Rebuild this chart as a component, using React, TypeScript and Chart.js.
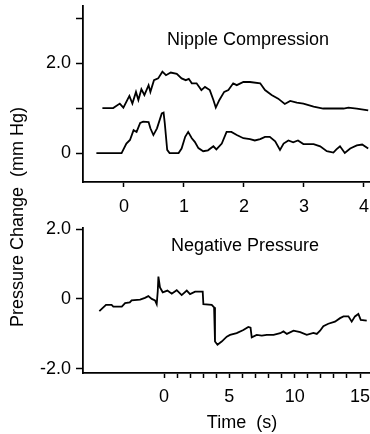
import React, { useEffect, useRef } from "react";
import { Chart, registerables } from "chart.js";

Chart.register(...registerables);

const FONT = "'Liberation Sans', Arial, Helvetica, sans-serif";

// Top panel: Nipple Compression (time in s, pressure change in mm Hg)
const upperT = [-0.36, -0.18, -0.07, -0.01, 0.09, 0.14, 0.2, 0.24, 0.29, 0.34, 0.41, 0.44, 0.5, 0.57, 0.64, 0.7, 0.78, 0.88, 0.96, 1.03, 1.08, 1.13, 1.21, 1.29, 1.35, 1.43, 1.49, 1.53, 1.59, 1.67, 1.74, 1.82, 1.88, 1.99, 2.1, 2.27, 2.35, 2.46, 2.57, 2.68, 2.77, 2.88, 2.99, 3.16, 3.32, 3.66, 3.74, 3.88, 4.07];
const upperV = [1.0, 1.0, 1.1, 1.01, 1.27, 1.1, 1.36, 1.18, 1.42, 1.29, 1.51, 1.36, 1.62, 1.66, 1.81, 1.73, 1.79, 1.76, 1.66, 1.62, 1.65, 1.55, 1.55, 1.4, 1.47, 1.4, 1.18, 1.01, 1.18, 1.36, 1.4, 1.55, 1.51, 1.58, 1.58, 1.55, 1.4, 1.29, 1.21, 1.09, 1.16, 1.12, 1.1, 1.03, 0.99, 0.99, 1.01, 0.99, 0.95];

const lowerT = [-0.46, -0.04, 0.04, 0.1, 0.16, 0.21, 0.27, 0.32, 0.41, 0.44, 0.49, 0.55, 0.63, 0.66, 0.68, 0.72, 0.76, 0.91, 0.96, 1.02, 1.07, 1.13, 1.18, 1.24, 1.32, 1.4, 1.49, 1.54, 1.63, 1.71, 1.79, 1.88, 1.99, 2.1, 2.18, 2.27, 2.35, 2.43, 2.52, 2.6, 2.66, 2.74, 2.82, 2.9, 2.99, 3.16, 3.27, 3.38, 3.49, 3.54, 3.6, 3.68, 3.77, 3.88, 3.97, 4.07];
const lowerV = [0, 0, 0.21, 0.29, 0.51, 0.47, 0.67, 0.7, 0.69, 0.55, 0.4, 0.55, 0.88, 0.9, 0.66, 0.07, 0, 0, 0.1, 0.36, 0.47, 0.33, 0.25, 0.11, 0.04, 0.06, 0.15, 0.08, 0.21, 0.47, 0.47, 0.4, 0.33, 0.31, 0.28, 0.31, 0.36, 0.36, 0.26, 0.07, 0.21, 0.28, 0.24, 0.28, 0.2, 0.2, 0.15, 0.04, 0.01, 0.08, 0.15, 0, 0.1, 0.17, 0.19, 0.1];

const topXTicks = [0, 1, 2, 3, 4];
const topYTicks = [0, 1, 2, 3];
const topYLabels: Record<number, string> = { 0: "0", 2: "2.0" };

// Bottom panel: Negative Pressure
const negT = [-4.95, -4.44, -4.01, -3.88, -3.23, -2.98, -2.62, -2.48, -1.83, -1.46, -1.2, -0.94, -0.69, -0.56, -0.48, -0.43, -0.31, -0.1, 0.26, 0.59, 0.97, 1.35, 1.74, 1.99, 2.38, 2.96, 3.01, 3.65, 3.83, 3.9, 4.09, 4.41, 4.8, 5.05, 5.56, 6.07, 6.45, 6.62, 6.71, 7.09, 7.48, 7.86, 8.38, 8.89, 9.14, 9.4, 9.91, 10.42, 10.92, 11.43, 11.69, 11.94, 12.19, 12.57, 13.08, 13.47, 13.73, 14.11, 14.36, 14.61, 14.87, 15.05, 15.51];
const negV = [-0.35, -0.17, -0.17, -0.22, -0.22, -0.12, -0.1, -0.04, -0.02, 0.03, 0.08, 0.0, -0.04, -0.15, 0.22, 0.64, 0.33, 0.19, 0.24, 0.15, 0.25, 0.11, 0.24, 0.14, 0.21, 0.21, -0.15, -0.17, -0.24, -1.22, -1.31, -1.22, -1.08, -1.03, -0.98, -0.89, -0.8, -0.82, -1.1, -1.03, -1.05, -1.03, -1.03, -0.98, -0.93, -1.0, -0.91, -0.95, -1.03, -0.97, -1.0, -0.91, -0.78, -0.71, -0.65, -0.55, -0.5, -0.5, -0.65, -0.5, -0.43, -0.6, -0.62];

const botXTicks = [0, 1, 2, 3, 4, 5, 6, 7, 8, 9, 10, 11, 12, 13, 14, 15];
const botXLabels: Record<number, string> = { 0: "0", 5: "5", 10: "10", 15: "15" };
const botYTicks = [-2, 0, 2];
const botYLabels: Record<number, string> = { "-2": "-2.0", 0: "0", 2: "2.0" };

const pts = (xs: number[], ys: number[]) => xs.map((x, i) => ({ x, y: ys[i] }));

const lineDs = (data: { x: number; y: number }[]) => ({
  data,
  borderColor: "#000",
  borderWidth: 1.8,
  pointRadius: 0,
  tension: 0,
  fill: false,
});

function axisX(min: number, max: number, ticks: number[], labels: (v: number) => string, height: number, pad: number) {
  return {
    type: "linear" as const,
    min,
    max,
    afterBuildTicks: (s: any) => {
      s.ticks = ticks.map((v) => ({ value: v }));
    },
    afterFit: (s: any) => {
      s.height = height;
      s.paddingLeft = 0;
      s.paddingRight = 0;
    },
    ticks: {
      autoSkip: false,
      maxRotation: 0,
      minRotation: 0,
      padding: pad,
      color: "#000",
      font: { family: FONT, size: 18 },
      callback: (v: any) => labels(Number(v)),
    },
    grid: { drawOnChartArea: false, drawTicks: true, tickLength: 5, tickWidth: 1.5, color: "#000" },
    border: { display: true, color: "#000", width: 1.8 },
  };
}

function axisY(min: number, max: number, ticks: number[], labels: (v: number) => string) {
  return {
    type: "linear" as const,
    min,
    max,
    afterBuildTicks: (s: any) => {
      s.ticks = ticks.map((v) => ({ value: v }));
    },
    afterFit: (s: any) => {
      s.width = 83;
      s.paddingTop = 0;
      s.paddingBottom = 0;
    },
    ticks: {
      autoSkip: false,
      padding: 5,
      color: "#000",
      font: { family: FONT, size: 18 },
      callback: (v: any) => labels(Number(v)),
    },
    grid: { drawOnChartArea: false, drawTicks: true, tickLength: 7, tickWidth: 1.5, color: "#000" },
    border: { display: true, color: "#000", width: 1.8 },
  };
}

function Panel(props: { top: number; height: number; config: any }) {
  const ref = useRef<HTMLCanvasElement>(null);
  useEffect(() => {
    if (!ref.current) return;
    const chart = new Chart(ref.current, props.config);
    return () => chart.destroy();
  }, []);
  return (
    <canvas
      ref={ref}
      width={370}
      height={props.height}
      style={{ position: "absolute", left: 0, top: props.top, width: 370, height: props.height }}
    />
  );
}

export default function App() {
  const common = {
    animation: false,
    responsive: false,
    maintainAspectRatio: false,
    plugins: { legend: { display: false }, tooltip: { enabled: false } },
  };

  const topConfig = {
    type: "line",
    data: { datasets: [lineDs(pts(upperT, upperV)), lineDs(pts(lowerT, lowerV))] },
    options: {
      ...common,
      layout: { padding: { top: 6, left: 0, right: 0, bottom: 0 } },
      scales: {
        x: axisX(-0.683, 4.1, topXTicks, (v) => String(v), 32, 9),
        y: axisY(-0.644, 3.27, topYTicks, (v) => topYLabels[v] ?? ""),
      },
    },
  };

  const botConfig = {
    type: "line",
    data: { datasets: [lineDs(pts(negT, negV))] },
    options: {
      ...common,
      layout: { padding: { top: 14, left: 0, right: 0, bottom: 0 } },
      scales: {
        x: axisX(-6.2, 15.76, botXTicks, (v) => botXLabels[v] ?? "", 61, 8),
        y: axisY(-2.12, 2.03, botYTicks, (v) => botYLabels[v] ?? ""),
      },
    },
  };

  const text: React.CSSProperties = {
    position: "absolute",
    fontFamily: FONT,
    fontSize: 18,
    lineHeight: "18px",
    color: "#000",
    whiteSpace: "pre",
  };

  return (
    <div style={{ position: "absolute", left: 0, top: 0, width: 370, height: 434, background: "#fff", overflow: "hidden" }}>
      <Panel top={0} height={214} config={topConfig} />
      <Panel top={214} height={220} config={botConfig} />
      <div style={{ ...text, left: 98, width: 300, top: 30, textAlign: "center" }}>Nipple Compression</div>
      <div style={{ ...text, left: 95, width: 300, top: 236, textAlign: "center" }}>Negative Pressure</div>
      <div style={{ ...text, left: 92, width: 300, top: 413, textAlign: "center" }}>Time  (s)</div>
      <div
        style={{
          ...text,
          left: 17 - 150,
          top: 217 - 9,
          width: 300,
          height: 18,
          textAlign: "center",
          transform: "rotate(-90deg)",
        }}
      >
        Pressure Change  (mm Hg)
      </div>
    </div>
  );
}
